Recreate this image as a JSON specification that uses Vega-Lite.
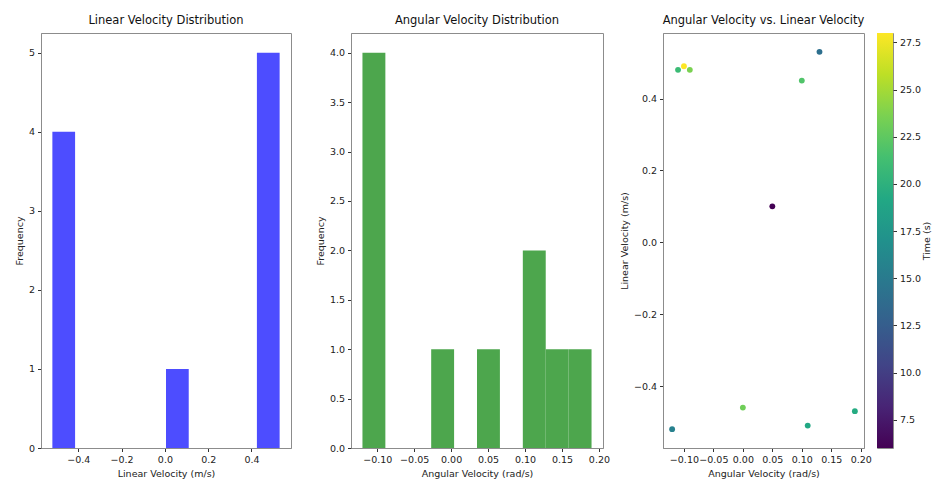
{
  "$schema": "https://vega.github.io/schema/vega-lite/v6.json",
  "background": "white",
  "padding": {"left": 13, "top": 14, "right": 2, "bottom": 8},
  "datasets": {
    "lin": [
      {"bin_start": -0.52, "bin_end": -0.415, "count": 4},
      {"bin_start": 0.005, "bin_end": 0.11, "count": 1},
      {"bin_start": 0.425, "bin_end": 0.53, "count": 5}
    ],
    "ang": [
      {"bin_start": -0.12, "bin_end": -0.089, "count": 4},
      {"bin_start": -0.027, "bin_end": 0.004, "count": 1},
      {"bin_start": 0.035, "bin_end": 0.066, "count": 1},
      {"bin_start": 0.097, "bin_end": 0.128, "count": 2},
      {"bin_start": 0.128, "bin_end": 0.159, "count": 1},
      {"bin_start": 0.159, "bin_end": 0.19, "count": 1}
    ],
    "pts": [
      {"angular": -0.11, "linear": 0.48, "time": 21},
      {"angular": -0.10, "linear": 0.49, "time": 28},
      {"angular": -0.09, "linear": 0.48, "time": 23.6},
      {"angular": 0.13, "linear": 0.53, "time": 14},
      {"angular": 0.10, "linear": 0.45, "time": 22},
      {"angular": 0.05, "linear": 0.10, "time": 6},
      {"angular": 0.00, "linear": -0.46, "time": 23.2},
      {"angular": -0.12, "linear": -0.52, "time": 15.5},
      {"angular": 0.11, "linear": -0.51, "time": 19.2},
      {"angular": 0.19, "linear": -0.47, "time": 19.5}
    ],
    "cbar": [
      {"tmin": 6, "tmax": 28}
    ]
  },
  "config": {
    "view": {"stroke": "#8c8c8c", "strokeWidth": 1},
    "axis": {
      "domainColor": "#8c8c8c",
      "tickColor": "#333",
      "tickSize": 3.5,
      "labelFont": "DejaVu Sans",
      "labelFontSize": 9.5,
      "labelColor": "#222",
      "labelPadding": 3,
      "titleFont": "DejaVu Sans",
      "titleFontSize": 9.5,
      "titleFontWeight": "normal",
      "titleColor": "#222",
      "grid": false,
      "labelFlush": false
    },
    "title": {"font": "DejaVu Sans", "fontSize": 11.5, "fontWeight": "normal", "color": "#111", "offset": 7}
  },
  "bounds": "flush",
  "spacing": 60,
  "hconcat": [
    {
      "width": 250,
      "height": 415,
      "title": "Linear Velocity Distribution",
      "data": {"name": "lin"},
      "mark": {"type": "rect", "color": "#4d4dff"},
      "encoding": {
        "x": {"field": "bin_start", "type": "quantitative",
              "scale": {"domain": [-0.5725, 0.5825], "nice": false, "zero": false},
              "axis": {"title": "Linear Velocity (m/s)", "values": [-0.4, -0.2, 0, 0.2, 0.4], "format": ".1f"}},
        "x2": {"field": "bin_end"},
        "y": {"field": "count", "type": "quantitative",
              "scale": {"domain": [0, 5.25], "nice": false},
              "axis": {"title": "Frequency", "values": [0, 1, 2, 3, 4, 5], "format": "d"}},
        "y2": {"datum": 0}
      }
    },
    {
      "width": 252,
      "height": 415,
      "title": "Angular Velocity Distribution",
      "data": {"name": "ang"},
      "mark": {"type": "rect", "color": "#4da64d"},
      "encoding": {
        "x": {"field": "bin_start", "type": "quantitative",
              "scale": {"domain": [-0.1355, 0.2055], "nice": false, "zero": false},
              "axis": {"title": "Angular Velocity (rad/s)", "values": [-0.1, -0.05, 0, 0.05, 0.1, 0.15, 0.2], "format": ".2f"}},
        "x2": {"field": "bin_end"},
        "y": {"field": "count", "type": "quantitative",
              "scale": {"domain": [0, 4.2], "nice": false},
              "axis": {"title": "Frequency", "values": [0, 0.5, 1, 1.5, 2, 2.5, 3, 3.5, 4], "format": ".1f"}},
        "y2": {"datum": 0}
      }
    },
    {
      "bounds": "flush",
      "spacing": 13,
      "hconcat": [
        {
          "width": 201,
          "height": 415,
          "title": "Angular Velocity vs. Linear Velocity",
          "data": {"name": "pts"},
          "mark": {"type": "point", "filled": true, "opacity": 1, "size": 34},
          "encoding": {
            "x": {"field": "angular", "type": "quantitative",
                  "scale": {"domain": [-0.1355, 0.2055], "nice": false, "zero": false},
                  "axis": {"title": "Angular Velocity (rad/s)", "values": [-0.1, -0.05, 0, 0.05, 0.1, 0.15, 0.2], "format": ".2f"}},
            "y": {"field": "linear", "type": "quantitative",
                  "scale": {"domain": [-0.5725, 0.5825], "nice": false, "zero": false},
                  "axis": {"title": "Linear Velocity (m/s)", "values": [-0.4, -0.2, 0, 0.2, 0.4], "format": ".1f"}},
            "color": {"field": "time", "type": "quantitative",
                      "scale": {"scheme": "viridis", "domain": [6, 28], "nice": false, "zero": false},
                      "legend": null}
          }
        },
        {
          "width": 16,
          "height": 415,
          "data": {"name": "cbar"},
          "mark": {
            "type": "rect",
            "color": {
              "gradient": "linear",
              "x1": 0, "y1": 1, "x2": 0, "y2": 0,
              "stops": [
                {"offset": 0.0, "color": "#440154"},
                {"offset": 0.1, "color": "#482475"},
                {"offset": 0.2, "color": "#414487"},
                {"offset": 0.3, "color": "#355f8d"},
                {"offset": 0.4, "color": "#2a788e"},
                {"offset": 0.5, "color": "#21918c"},
                {"offset": 0.6, "color": "#22a884"},
                {"offset": 0.7, "color": "#44bf70"},
                {"offset": 0.8, "color": "#7ad151"},
                {"offset": 0.9, "color": "#bddf26"},
                {"offset": 1.0, "color": "#fde725"}
              ]
            }
          },
          "encoding": {
            "y": {"field": "tmin", "type": "quantitative",
                  "scale": {"domain": [6, 28], "nice": false, "zero": false},
                  "axis": {"orient": "right", "title": "Time (s)", "titleAngle": 270,
                           "titleBaseline": "top",
                           "domain": false, "titlePadding": 1,
                           "values": [7.5, 10, 12.5, 15, 17.5, 20, 22.5, 25, 27.5], "format": ".1f"}},
            "y2": {"field": "tmax"}
          }
        }
      ]
    }
  ]
}
